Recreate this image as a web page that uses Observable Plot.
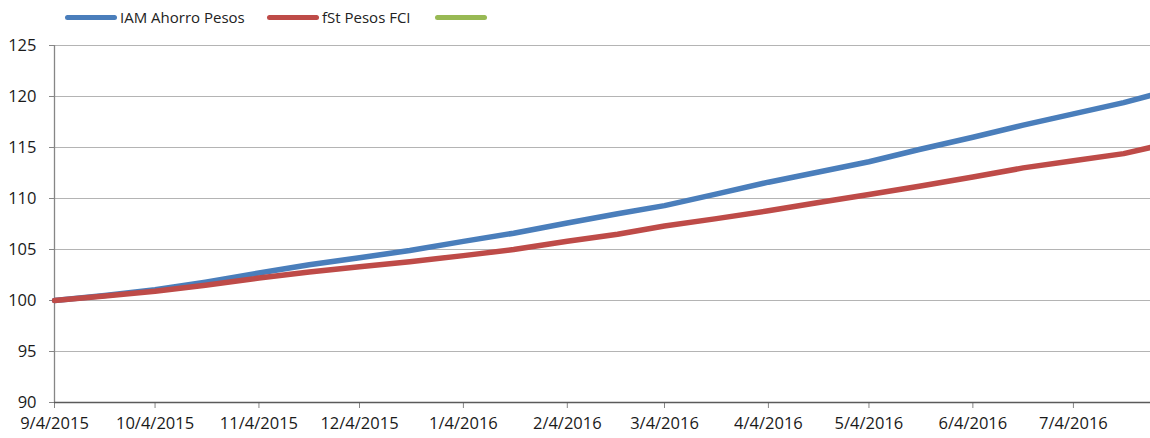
<!DOCTYPE html>
<html>
<head>
<meta charset="utf-8">
<script src="https://cdn.jsdelivr.net/npm/d3@7"></script>
<script src="https://cdn.jsdelivr.net/npm/@observablehq/plot@0.6"></script>
<style>
  body { margin: 0; background: #fff; font-family: "Open Sans", sans-serif; }
  #legend { position: relative; height: 30px; font-size: 15px; color: #222; }
  .item { position: absolute; top: 0; height: 34px; display: flex; align-items: center; }
  .sw { width: 52px; height: 5px; border-radius: 3px; margin-right: 3px; }
  svg { display: block; }
</style>
</head>
<body>
<div id="legend"></div>
<div id="chart"></div>
<script>
const dates = ["2015-09-04","2015-09-19","2015-10-04","2015-10-19","2015-11-04","2015-11-19","2015-12-04","2015-12-19","2016-01-04","2016-01-19","2016-02-04","2016-02-19","2016-03-04","2016-03-19","2016-04-04","2016-04-19","2016-05-04","2016-05-19","2016-06-04","2016-06-19","2016-07-04","2016-07-19","2016-07-27"];
const iamAhorro = [100, 100.5, 101.05, 101.8, 102.7, 103.5, 104.2, 104.9, 105.8, 106.6, 107.6, 108.5, 109.3, 110.4, 111.6, 112.6, 113.6, 114.8, 116.0, 117.2, 118.3, 119.4, 120.1];
const fstPesos = [100, 100.45, 100.9, 101.5, 102.2, 102.8, 103.3, 103.8, 104.4, 105.0, 105.8, 106.5, 107.3, 108.0, 108.8, 109.6, 110.4, 111.2, 112.1, 113.0, 113.7, 114.4, 115.0];
const seriesNames = ["IAM Ahorro Pesos", "fSt Pesos FCI", ""];
const seriesColors = ["#4a7ebb", "#be4b48", "#98b954"];
const tickDates = ["2015-09-04","2015-10-04","2015-11-04","2015-12-04","2016-01-04","2016-02-04","2016-03-04","2016-04-04","2016-05-04","2016-06-04","2016-07-04"];
const yTicks = [90, 95, 100, 105, 110, 115, 120, 125];

const parse = d3.utcParse("%Y-%m-%d");
const data = [];
dates.forEach((d, i) => {
  data.push({date: parse(d), value: iamAhorro[i], series: seriesNames[0]});
  data.push({date: parse(d), value: fstPesos[i], series: seriesNames[1]});
});

// legend
const legend = document.getElementById("legend");
const lefts = [65, 267, 435];
seriesNames.forEach((n, i) => {
  const it = document.createElement("div");
  it.className = "item";
  it.style.left = lefts[i] + "px";
  it.innerHTML = `<div class="sw" style="background:${seriesColors[i]}"></div><span>${n}</span>`;
  legend.appendChild(it);
});

const x0 = parse(dates[0]);
const x1 = parse(dates[dates.length - 1]);
const fmt = d3.utcFormat("%-m/%-d/%Y");

const chart = Plot.plot({
  width: 1150,
  height: 408,
  marginLeft: 54,
  marginRight: 0,
  marginTop: 15,
  marginBottom: 36,
  style: {fontFamily: "Open Sans, sans-serif", fontSize: "16.5px", color: "#1a1a1a"},
  x: {type: "utc", domain: [x0, x1]},
  y: {domain: [90, 125]},
  color: {domain: seriesNames.slice(0, 2), range: seriesColors.slice(0, 2)},
  marks: [
    Plot.gridY(yTicks, {stroke: "#b4b4b4", strokeOpacity: 1}),
    Plot.axisY(yTicks, {tickSize: 5, tickPadding: 13, stroke: "#868686", label: null, fill: "#1a1a1a"}),
    Plot.axisX(tickDates.map(parse), {tickSize: 6, tickPadding: 9, tickFormat: fmt, stroke: "#868686", label: null, fill: "#1a1a1a"}),
    Plot.ruleX([x0], {stroke: "#868686", strokeWidth: 1.3}),
    Plot.ruleY([90], {stroke: "#5a5a5a", strokeWidth: 1.3}),
    Plot.line(data, {x: "date", y: "value", z: "series", stroke: "series", strokeWidth: 5.5, strokeLinejoin: "round"})
  ]
});
document.getElementById("chart").appendChild(chart);
</script>
</body>
</html>
